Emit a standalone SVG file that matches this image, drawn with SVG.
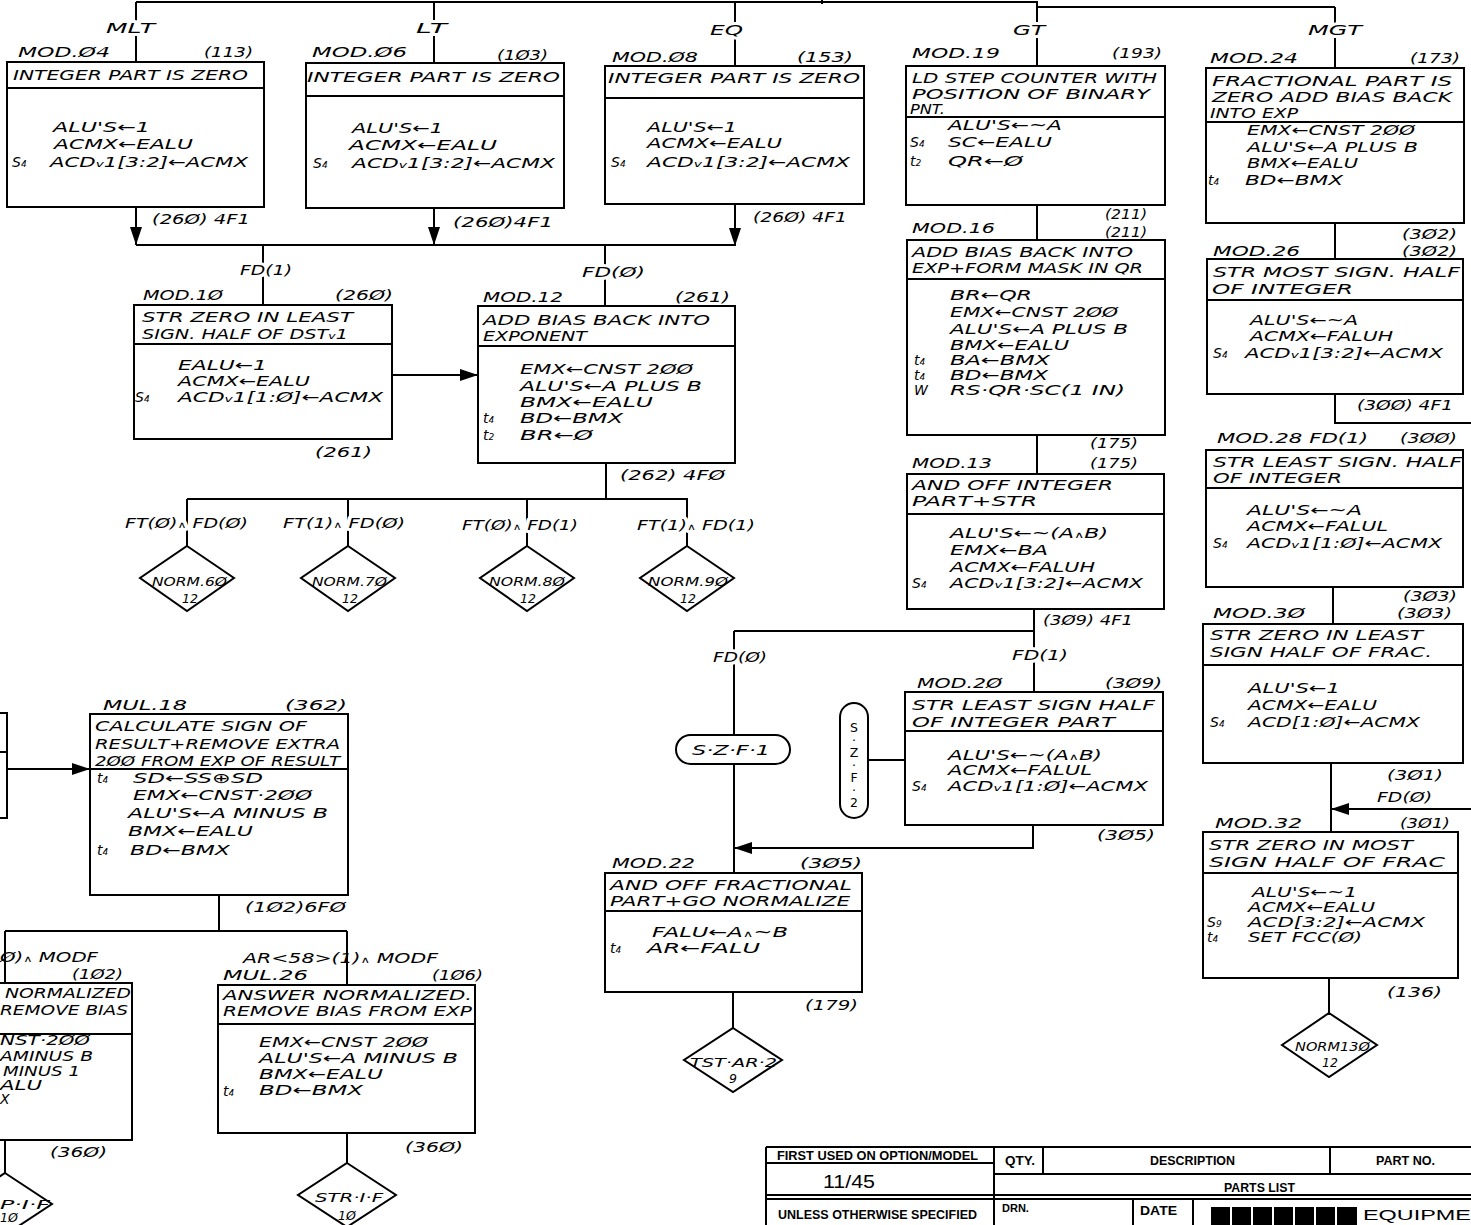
<svg xmlns="http://www.w3.org/2000/svg" width="1471" height="1225" viewBox="0 0 1471 1225">
<style>
text{font-family:"DejaVu Sans","Liberation Sans",sans-serif;font-style:italic;font-size:14px;fill:#000}
.s{font-size:9px}
.d{font-size:12.5px}
.halo{stroke:#fff;stroke-width:6px;paint-order:stroke fill;stroke-linejoin:round}
.box{fill:#fff;stroke:#000;stroke-width:2}
.ln{fill:none;stroke:#000;stroke-width:2}
.tb{font-family:"Liberation Sans",sans-serif;font-style:normal;font-weight:bold;font-size:12px}
.tbl{fill:none;stroke:#000;stroke-width:2}
</style>
<defs>
<marker id="ah" markerUnits="userSpaceOnUse" viewBox="0 0 18 12" refX="18" refY="6" markerWidth="18" markerHeight="12" orient="auto"><path d="M0,0 L18,6 L0,12 z" fill="#000"/></marker>
</defs>
<rect width="1471" height="1225" fill="#fff"/>

<g id="connectors" class="ln">
<path d="M136,2 H1037 V7 H1335"/>
<path d="M822,0 V4"/>
<path d="M136,2 V62 M434,2 V63 M735,2 V66 M1037,7 V66 M1335,7 V68"/>
<path d="M136,207 V245" marker-end="url(#ah)"/>
<path d="M434,208 V245" marker-end="url(#ah)"/>
<path d="M735,204 V246" marker-end="url(#ah)"/>
<path d="M136,245 H735 M263,245 V305 M605,245 V306"/>
<path d="M392,375 H478" marker-end="url(#ah)"/>
<path d="M606,463 V499 M187,499 H688 M187,499 V546 M348,499 V546 M527,499 V546 M687,499 V546"/>
<path d="M1037,205 V240 M1037,435 V474"/>
<path d="M1034,609 V692 M734,631 H1034 M734,631 V873"/>
<path d="M868,760 H905"/>
<path d="M1033,825 V848 H734" marker-end="url(#ah)"/>
<path d="M733,992 V1028"/>
<path d="M1335,223 V259 M1335,394 V423 H1471"/>
<path d="M1333,587 V624 M1331,763 V832"/>
<path d="M1471,809 H1331" marker-end="url(#ah)"/>
<path d="M1329,978 V1013"/>
<path d="M7,769 H90" marker-end="url(#ah)"/>
<path d="M219,895 V931 M5,931 H347 M5,931 V983 M347,931 V985 M5,1140 V1173 M347,1133 V1163"/>
</g>

<g id="branch-labels">
<text class="halo" x="106" y="33" textLength="49" lengthAdjust="spacingAndGlyphs">MLT</text>
<text class="halo" x="416" y="33" textLength="31" lengthAdjust="spacingAndGlyphs">LT</text>
<text class="halo" x="710" y="35" textLength="33" lengthAdjust="spacingAndGlyphs">EQ</text>
<text class="halo" x="1013" y="35" textLength="32" lengthAdjust="spacingAndGlyphs">GT</text>
<text class="halo" x="1308" y="35" textLength="54" lengthAdjust="spacingAndGlyphs">MGT</text>
<text x="152" y="224" textLength="98" lengthAdjust="spacingAndGlyphs">(26Ø) 4F1</text>
<text x="453" y="227" textLength="100" lengthAdjust="spacingAndGlyphs">(26Ø)4F1</text>
<text x="753" y="222" textLength="94" lengthAdjust="spacingAndGlyphs">(26Ø) 4F1</text>
<text class="halo" x="240" y="275" textLength="52" lengthAdjust="spacingAndGlyphs">FD(1)</text>
<text class="halo" x="582" y="277" textLength="63" lengthAdjust="spacingAndGlyphs">FD(Ø)</text>
<text x="315" y="457" textLength="57" lengthAdjust="spacingAndGlyphs">(261)</text>
<text x="620" y="480" textLength="105" lengthAdjust="spacingAndGlyphs">(262) 4FØ</text>
<text class="halo" x="125" y="528" textLength="123" lengthAdjust="spacingAndGlyphs">FT(Ø)<tspan class="s">∧</tspan> FD(Ø)</text>
<text class="halo" x="283" y="528" textLength="122" lengthAdjust="spacingAndGlyphs">FT(1)<tspan class="s">∧</tspan> FD(Ø)</text>
<text class="halo" x="462" y="530" textLength="116" lengthAdjust="spacingAndGlyphs">FT(Ø)<tspan class="s">∧</tspan> FD(1)</text>
<text class="halo" x="637" y="530" textLength="118" lengthAdjust="spacingAndGlyphs">FT(1)<tspan class="s">∧</tspan> FD(1)</text>
<text x="1105" y="219" textLength="42" lengthAdjust="spacingAndGlyphs">(211)</text>
<text x="1105" y="237" textLength="42" lengthAdjust="spacingAndGlyphs">(211)</text>
<text x="1090" y="448" textLength="48" lengthAdjust="spacingAndGlyphs">(175)</text>
<text x="1090" y="468" textLength="48" lengthAdjust="spacingAndGlyphs">(175)</text>
<text x="1043" y="625" textLength="90" lengthAdjust="spacingAndGlyphs">(3Ø9) 4F1</text>
<text class="halo" x="713" y="662" textLength="54" lengthAdjust="spacingAndGlyphs">FD(Ø)</text>
<text class="halo" x="1012" y="660" textLength="56" lengthAdjust="spacingAndGlyphs">FD(1)</text>
<text x="1097" y="840" textLength="58" lengthAdjust="spacingAndGlyphs">(3Ø5)</text>
<text x="805" y="1010" textLength="53" lengthAdjust="spacingAndGlyphs">(179)</text>
<text x="1402" y="239" textLength="55" lengthAdjust="spacingAndGlyphs">(3Ø2)</text>
<text x="1402" y="256" textLength="55" lengthAdjust="spacingAndGlyphs">(3Ø2)</text>
<text x="1357" y="410" textLength="96" lengthAdjust="spacingAndGlyphs">(3ØØ) 4F1</text>
<text x="1403" y="601" textLength="54" lengthAdjust="spacingAndGlyphs">(3Ø3)</text>
<text x="1387" y="780" textLength="56" lengthAdjust="spacingAndGlyphs">(3Ø1)</text>
<text x="1377" y="802" textLength="55" lengthAdjust="spacingAndGlyphs">FD(Ø)</text>
<text x="1387" y="997" textLength="55" lengthAdjust="spacingAndGlyphs">(136)</text>
<text x="245" y="912" textLength="101" lengthAdjust="spacingAndGlyphs">(1Ø2)6FØ</text>
<text x="0" y="962" textLength="98" lengthAdjust="spacingAndGlyphs">Ø)<tspan class="s">∧</tspan> MODF</text>
<text x="72" y="979" textLength="51" lengthAdjust="spacingAndGlyphs">(1Ø2)</text>
<text x="50" y="1157" textLength="57" lengthAdjust="spacingAndGlyphs">(36Ø)</text>
<text x="243" y="963" textLength="195" lengthAdjust="spacingAndGlyphs">AR&lt;58&gt;(1)<tspan class="s">∧</tspan> MODF</text>
<text x="405" y="1152" textLength="58" lengthAdjust="spacingAndGlyphs">(36Ø)</text>
</g>

<g id="mod04">
<rect class="box" x="7" y="62" width="257" height="145"/><path class="ln" d="M7,88 H264"/>
<text x="18" y="57" textLength="92" lengthAdjust="spacingAndGlyphs">MOD.Ø4</text>
<text x="204" y="57" textLength="49" lengthAdjust="spacingAndGlyphs">(113)</text>
<text x="13" y="80" textLength="235" lengthAdjust="spacingAndGlyphs">INTEGER PART IS ZERO</text>
<text x="53" y="132" textLength="97" lengthAdjust="spacingAndGlyphs">ALU'S←1</text>
<text x="54" y="149" textLength="139" lengthAdjust="spacingAndGlyphs">ACMX←EALU</text>
<text x="12" y="167">S<tspan class="s">4</tspan></text>
<text x="50" y="167" textLength="198" lengthAdjust="spacingAndGlyphs">ACD<tspan class="s">v</tspan>1[3:2]←ACMX</text>
</g>

<g id="mod06">
<rect class="box" x="306" y="63" width="258" height="145"/><path class="ln" d="M306,96 H564"/>
<text x="312" y="57" textLength="95" lengthAdjust="spacingAndGlyphs">MOD.Ø6</text>
<text x="497" y="60" textLength="51" lengthAdjust="spacingAndGlyphs">(1Ø3)</text>
<text x="307" y="82" textLength="253" lengthAdjust="spacingAndGlyphs">INTEGER PART IS ZERO</text>
<text x="352" y="133" textLength="91" lengthAdjust="spacingAndGlyphs">ALU'S←1</text>
<text x="349" y="150" textLength="148" lengthAdjust="spacingAndGlyphs">ACMX←EALU</text>
<text x="313" y="168">S<tspan class="s">4</tspan></text>
<text x="352" y="168" textLength="203" lengthAdjust="spacingAndGlyphs">ACD<tspan class="s">v</tspan>1[3:2]←ACMX</text>
</g>

<g id="mod08">
<rect class="box" x="605" y="66" width="259" height="138"/><path class="ln" d="M605,98 H864"/>
<text x="612" y="62" textLength="86" lengthAdjust="spacingAndGlyphs">MOD.Ø8</text>
<text x="797" y="62" textLength="56" lengthAdjust="spacingAndGlyphs">(153)</text>
<text x="608" y="83" textLength="252" lengthAdjust="spacingAndGlyphs">INTEGER PART IS ZERO</text>
<text x="647" y="132" textLength="90" lengthAdjust="spacingAndGlyphs">ALU'S←1</text>
<text x="647" y="148" textLength="135" lengthAdjust="spacingAndGlyphs">ACMX←EALU</text>
<text x="611" y="167">S<tspan class="s">4</tspan></text>
<text x="647" y="167" textLength="203" lengthAdjust="spacingAndGlyphs">ACD<tspan class="s">v</tspan>1[3:2]←ACMX</text>
</g>

<g id="mod19">
<rect class="box" x="906" y="66" width="259" height="139"/><path class="ln" d="M906,117 H1165"/>
<text x="912" y="58" textLength="88" lengthAdjust="spacingAndGlyphs">MOD.19</text>
<text x="1112" y="58" textLength="50" lengthAdjust="spacingAndGlyphs">(193)</text>
<text x="912" y="83" textLength="245" lengthAdjust="spacingAndGlyphs">LD STEP COUNTER WITH</text>
<text x="912" y="99" textLength="238" lengthAdjust="spacingAndGlyphs">POSITION OF BINARY</text>
<text x="910" y="114" textLength="35" lengthAdjust="spacingAndGlyphs">PNT.</text>
<text x="948" y="130" textLength="114" lengthAdjust="spacingAndGlyphs">ALU'S←~A</text>
<text x="910" y="147">S<tspan class="s">4</tspan></text>
<text x="948" y="147" textLength="104" lengthAdjust="spacingAndGlyphs">SC←EALU</text>
<text x="910" y="166">t<tspan class="s">2</tspan></text>
<text x="948" y="166" textLength="75" lengthAdjust="spacingAndGlyphs">QR←Ø</text>
</g>

<g id="mod24">
<rect class="box" x="1206" y="68" width="258" height="155"/><path class="ln" d="M1206,122 H1464"/>
<text x="1210" y="63" textLength="88" lengthAdjust="spacingAndGlyphs">MOD.24</text>
<text x="1410" y="63" textLength="50" lengthAdjust="spacingAndGlyphs">(173)</text>
<text x="1212" y="86" textLength="240" lengthAdjust="spacingAndGlyphs">FRACTIONAL PART IS</text>
<text x="1212" y="102" textLength="240" lengthAdjust="spacingAndGlyphs">ZERO ADD BIAS BACK</text>
<text x="1210" y="118" textLength="88" lengthAdjust="spacingAndGlyphs">INTO EXP</text>
<text x="1247" y="135" textLength="168" lengthAdjust="spacingAndGlyphs">EMX←CNST 2ØØ</text>
<text x="1247" y="152" textLength="171" lengthAdjust="spacingAndGlyphs">ALU'S←A PLUS B</text>
<text x="1247" y="168" textLength="111" lengthAdjust="spacingAndGlyphs">BMX←EALU</text>
<text x="1208" y="185">t<tspan class="s">4</tspan></text>
<text x="1245" y="185" textLength="98" lengthAdjust="spacingAndGlyphs">BD←BMX</text>
</g>

<g id="mod16">
<rect class="box" x="907" y="240" width="258" height="195"/><path class="ln" d="M907,279 H1165"/>
<text x="912" y="233" textLength="83" lengthAdjust="spacingAndGlyphs">MOD.16</text>
<text x="912" y="257" textLength="221" lengthAdjust="spacingAndGlyphs">ADD BIAS BACK INTO</text>
<text x="912" y="273" textLength="231" lengthAdjust="spacingAndGlyphs">EXP+FORM MASK IN QR</text>
<text x="950" y="300" textLength="82" lengthAdjust="spacingAndGlyphs">BR←QR</text>
<text x="950" y="317" textLength="168" lengthAdjust="spacingAndGlyphs">EMX←CNST 2ØØ</text>
<text x="950" y="334" textLength="178" lengthAdjust="spacingAndGlyphs">ALU'S←A PLUS B</text>
<text x="950" y="350" textLength="119" lengthAdjust="spacingAndGlyphs">BMX←EALU</text>
<text x="914" y="365">t<tspan class="s">4</tspan></text>
<text x="950" y="365" textLength="100" lengthAdjust="spacingAndGlyphs">BA←BMX</text>
<text x="914" y="380">t<tspan class="s">4</tspan></text>
<text x="950" y="380" textLength="98" lengthAdjust="spacingAndGlyphs">BD←BMX</text>
<text x="914" y="395">W</text>
<text x="950" y="395" textLength="175" lengthAdjust="spacingAndGlyphs">RS·QR·SC(1 IN)</text>
</g>

<g id="mod26">
<rect class="box" x="1207" y="259" width="256" height="135"/><path class="ln" d="M1207,300 H1463"/>
<text x="1213" y="256" textLength="87" lengthAdjust="spacingAndGlyphs">MOD.26</text>
<text x="1213" y="277" textLength="247" lengthAdjust="spacingAndGlyphs">STR MOST SIGN. HALF</text>
<text x="1212" y="294" textLength="141" lengthAdjust="spacingAndGlyphs">OF INTEGER</text>
<text x="1250" y="325" textLength="108" lengthAdjust="spacingAndGlyphs">ALU'S←~A</text>
<text x="1250" y="341" textLength="143" lengthAdjust="spacingAndGlyphs">ACMX←FALUH</text>
<text x="1213" y="358">S<tspan class="s">4</tspan></text>
<text x="1245" y="358" textLength="198" lengthAdjust="spacingAndGlyphs">ACD<tspan class="s">v</tspan>1[3:2]←ACMX</text>
</g>

<g id="mod28">
<rect class="box" x="1206" y="450" width="257" height="137"/><path class="ln" d="M1206,488 H1463"/>
<text x="1217" y="443" textLength="151" lengthAdjust="spacingAndGlyphs">MOD.28 FD(1)</text>
<text x="1400" y="443" textLength="57" lengthAdjust="spacingAndGlyphs">(3ØØ)</text>
<text x="1213" y="467" textLength="249" lengthAdjust="spacingAndGlyphs">STR LEAST SIGN. HALF</text>
<text x="1213" y="483" textLength="129" lengthAdjust="spacingAndGlyphs">OF INTEGER</text>
<text x="1247" y="515" textLength="115" lengthAdjust="spacingAndGlyphs">ALU'S←~A</text>
<text x="1247" y="531" textLength="141" lengthAdjust="spacingAndGlyphs">ACMX←FALUL</text>
<text x="1213" y="548">S<tspan class="s">4</tspan></text>
<text x="1247" y="548" textLength="195" lengthAdjust="spacingAndGlyphs">ACD<tspan class="s">v</tspan>1[1:Ø]←ACMX</text>
</g>

<g id="mod30">
<rect class="box" x="1203" y="624" width="260" height="139"/><path class="ln" d="M1203,665 H1463"/>
<text x="1213" y="618" textLength="92" lengthAdjust="spacingAndGlyphs">MOD.3Ø</text>
<text x="1397" y="618" textLength="55" lengthAdjust="spacingAndGlyphs">(3Ø3)</text>
<text x="1210" y="640" textLength="213" lengthAdjust="spacingAndGlyphs">STR ZERO IN LEAST</text>
<text x="1210" y="657" textLength="222" lengthAdjust="spacingAndGlyphs">SIGN HALF OF FRAC.</text>
<text x="1248" y="693" textLength="92" lengthAdjust="spacingAndGlyphs">ALU'S←1</text>
<text x="1248" y="710" textLength="129" lengthAdjust="spacingAndGlyphs">ACMX←EALU</text>
<text x="1210" y="727">S<tspan class="s">4</tspan></text>
<text x="1248" y="727" textLength="172" lengthAdjust="spacingAndGlyphs">ACD[1:Ø]←ACMX</text>
</g>

<g id="mod32">
<rect class="box" x="1203" y="832" width="255" height="146"/><path class="ln" d="M1203,873 H1458"/>
<text x="1215" y="828" textLength="87" lengthAdjust="spacingAndGlyphs">MOD.32</text>
<text x="1400" y="828" textLength="50" lengthAdjust="spacingAndGlyphs">(3Ø1)</text>
<text x="1209" y="850" textLength="204" lengthAdjust="spacingAndGlyphs">STR ZERO IN MOST</text>
<text x="1209" y="867" textLength="236" lengthAdjust="spacingAndGlyphs">SIGN HALF OF FRAC</text>
<text x="1252" y="897" textLength="105" lengthAdjust="spacingAndGlyphs">ALU'S←~1</text>
<text x="1248" y="912" textLength="127" lengthAdjust="spacingAndGlyphs">ACMX←EALU</text>
<text x="1207" y="927">S<tspan class="s">9</tspan></text>
<text x="1248" y="927" textLength="177" lengthAdjust="spacingAndGlyphs">ACD[3:2]←ACMX</text>
<text x="1207" y="942">t<tspan class="s">4</tspan></text>
<text x="1248" y="942" textLength="114" lengthAdjust="spacingAndGlyphs">SET FCC(Ø)</text>
</g>

<g id="norm130">
<polygon class="box" points="1329,1013 1377,1045 1329,1077 1282,1045"/>
<text class="d" x="1295" y="1051" textLength="75" lengthAdjust="spacingAndGlyphs">NORM13Ø</text>
<text class="d" x="1330" y="1067" text-anchor="middle">12</text>
</g>

<g id="mod10">
<rect class="box" x="134" y="305" width="258" height="134"/><path class="ln" d="M134,344 H392"/>
<text x="143" y="300" textLength="80" lengthAdjust="spacingAndGlyphs">MOD.1Ø</text>
<text x="335" y="300" textLength="58" lengthAdjust="spacingAndGlyphs">(26Ø)</text>
<text x="142" y="322" textLength="211" lengthAdjust="spacingAndGlyphs">STR ZERO IN LEAST</text>
<text x="142" y="339" textLength="206" lengthAdjust="spacingAndGlyphs">SIGN. HALF OF DST<tspan class="s">v</tspan>1</text>
<text x="178" y="370" textLength="89" lengthAdjust="spacingAndGlyphs">EALU←1</text>
<text x="178" y="386" textLength="132" lengthAdjust="spacingAndGlyphs">ACMX←EALU</text>
<text x="135" y="402">S<tspan class="s">4</tspan></text>
<text x="178" y="402" textLength="205" lengthAdjust="spacingAndGlyphs">ACD<tspan class="s">v</tspan>1[1:Ø]←ACMX</text>
</g>

<g id="mod12">
<rect class="box" x="478" y="306" width="257" height="157"/><path class="ln" d="M478,346 H735"/>
<text x="483" y="302" textLength="80" lengthAdjust="spacingAndGlyphs">MOD.12</text>
<text x="675" y="302" textLength="55" lengthAdjust="spacingAndGlyphs">(261)</text>
<text x="483" y="325" textLength="227" lengthAdjust="spacingAndGlyphs">ADD BIAS BACK INTO</text>
<text x="483" y="341" textLength="104" lengthAdjust="spacingAndGlyphs">EXPONENT</text>
<text x="520" y="374" textLength="173" lengthAdjust="spacingAndGlyphs">EMX←CNST 2ØØ</text>
<text x="520" y="391" textLength="182" lengthAdjust="spacingAndGlyphs">ALU'S←A PLUS B</text>
<text x="520" y="407" textLength="133" lengthAdjust="spacingAndGlyphs">BMX←EALU</text>
<text x="483" y="423">t<tspan class="s">4</tspan></text>
<text x="520" y="423" textLength="103" lengthAdjust="spacingAndGlyphs">BD←BMX</text>
<text x="483" y="440">t<tspan class="s">2</tspan></text>
<text x="520" y="440" textLength="73" lengthAdjust="spacingAndGlyphs">BR←Ø</text>
</g>

<g id="norm60">
<polygon class="box" points="187,546 234,578 187,611 140,578"/>
<text class="d" x="152" y="586" textLength="75" lengthAdjust="spacingAndGlyphs">NORM.6Ø</text>
<text class="d" x="190" y="603" text-anchor="middle">12</text>
</g>
<g id="norm70">
<polygon class="box" points="348,546 395,578 348,611 301,578"/>
<text class="d" x="312" y="586" textLength="75" lengthAdjust="spacingAndGlyphs">NORM.7Ø</text>
<text class="d" x="350" y="603" text-anchor="middle">12</text>
</g>
<g id="norm80">
<polygon class="box" points="527,546 574,578 527,611 480,578"/>
<text class="d" x="489" y="586" textLength="76" lengthAdjust="spacingAndGlyphs">NORM.8Ø</text>
<text class="d" x="528" y="603" text-anchor="middle">12</text>
</g>
<g id="norm90">
<polygon class="box" points="687,546 734,578 687,611 640,578"/>
<text class="d" x="648" y="586" textLength="80" lengthAdjust="spacingAndGlyphs">NORM.9Ø</text>
<text class="d" x="688" y="603" text-anchor="middle">12</text>
</g>

<g id="mod13">
<rect class="box" x="907" y="474" width="257" height="135"/><path class="ln" d="M907,514 H1164"/>
<text x="912" y="468" textLength="80" lengthAdjust="spacingAndGlyphs">MOD.13</text>
<text x="912" y="490" textLength="201" lengthAdjust="spacingAndGlyphs">AND OFF INTEGER</text>
<text x="912" y="506" textLength="125" lengthAdjust="spacingAndGlyphs">PART+STR</text>
<text x="950" y="538" textLength="158" lengthAdjust="spacingAndGlyphs">ALU'S←~(A<tspan class="s">∧</tspan>B)</text>
<text x="950" y="555" textLength="98" lengthAdjust="spacingAndGlyphs">EMX←BA</text>
<text x="950" y="572" textLength="145" lengthAdjust="spacingAndGlyphs">ACMX←FALUH</text>
<text x="912" y="588">S<tspan class="s">4</tspan></text>
<text x="950" y="588" textLength="193" lengthAdjust="spacingAndGlyphs">ACD<tspan class="s">v</tspan>1[3:2]←ACMX</text>
</g>

<g id="szf1">
<rect class="box" x="676" y="735" width="114" height="29" rx="14.5"/>
<text x="692" y="755" textLength="78" lengthAdjust="spacingAndGlyphs">S·Z·F·1</text>
</g>

<g id="szf2">
<rect class="box" x="840" y="703" width="28" height="115" rx="14"/>
<text x="854" y="720" style="writing-mode:vertical-rl;text-orientation:upright;font-style:normal;font-size:12.5px" textLength="90" lengthAdjust="spacing">S·Z·F·2</text>
</g>

<g id="mod20">
<rect class="box" x="905" y="692" width="258" height="133"/><path class="ln" d="M905,731 H1163"/>
<text x="917" y="688" textLength="85" lengthAdjust="spacingAndGlyphs">MOD.2Ø</text>
<text x="1105" y="688" textLength="57" lengthAdjust="spacingAndGlyphs">(3Ø9)</text>
<text x="912" y="710" textLength="243" lengthAdjust="spacingAndGlyphs">STR LEAST SIGN HALF</text>
<text x="912" y="727" textLength="203" lengthAdjust="spacingAndGlyphs">OF INTEGER PART</text>
<text x="948" y="760" textLength="154" lengthAdjust="spacingAndGlyphs">ALU'S←~(A<tspan class="s">∧</tspan>B)</text>
<text x="948" y="775" textLength="144" lengthAdjust="spacingAndGlyphs">ACMX←FALUL</text>
<text x="912" y="791">S<tspan class="s">4</tspan></text>
<text x="948" y="791" textLength="200" lengthAdjust="spacingAndGlyphs">ACD<tspan class="s">v</tspan>1[1:Ø]←ACMX</text>
</g>

<g id="mod22">
<rect class="box" x="605" y="873" width="257" height="119"/><path class="ln" d="M605,911 H862"/>
<text x="612" y="868" textLength="83" lengthAdjust="spacingAndGlyphs">MOD.22</text>
<text x="800" y="868" textLength="62" lengthAdjust="spacingAndGlyphs">(3Ø5)</text>
<text x="610" y="890" textLength="242" lengthAdjust="spacingAndGlyphs">AND OFF FRACTIONAL</text>
<text x="610" y="906" textLength="240" lengthAdjust="spacingAndGlyphs">PART+GO NORMALIZE</text>
<text x="652" y="937" textLength="136" lengthAdjust="spacingAndGlyphs">FALU←A<tspan class="s">∧</tspan>~B</text>
<text x="610" y="953">t<tspan class="s">4</tspan></text>
<text x="647" y="953" textLength="113" lengthAdjust="spacingAndGlyphs">AR←FALU</text>
</g>

<g id="tstar2">
<polygon class="box" points="733,1028 782,1060 733,1092 684,1060"/>
<text class="d" x="690" y="1067" textLength="87" lengthAdjust="spacingAndGlyphs">TST·AR·2</text>
<text class="d" x="733" y="1083" text-anchor="middle">9</text>
</g>

<g id="left-box1">
<rect class="box" x="-300" y="713" width="307" height="105"/><path class="ln" d="M-300,752 H7"/>
</g>

<g id="mul18">
<rect class="box" x="90" y="714" width="258" height="181"/><path class="ln" d="M90,769 H348"/>
<text x="103" y="710" textLength="84" lengthAdjust="spacingAndGlyphs">MUL.18</text>
<text x="285" y="710" textLength="62" lengthAdjust="spacingAndGlyphs">(362)</text>
<text x="95" y="731" textLength="212" lengthAdjust="spacingAndGlyphs">CALCULATE SIGN OF</text>
<text x="95" y="749" textLength="245" lengthAdjust="spacingAndGlyphs">RESULT+REMOVE EXTRA</text>
<text x="95" y="766" textLength="245" lengthAdjust="spacingAndGlyphs">2ØØ FROM EXP OF RESULT</text>
<text x="97" y="783">t<tspan class="s">4</tspan></text>
<text x="133" y="783" textLength="130" lengthAdjust="spacingAndGlyphs">SD←SS⊕SD</text>
<text x="133" y="800" textLength="179" lengthAdjust="spacingAndGlyphs">EMX←CNST·2ØØ</text>
<text x="128" y="818" textLength="200" lengthAdjust="spacingAndGlyphs">ALU'S←A MINUS B</text>
<text x="128" y="836" textLength="125" lengthAdjust="spacingAndGlyphs">BMX←EALU</text>
<text x="97" y="855">t<tspan class="s">4</tspan></text>
<text x="130" y="855" textLength="100" lengthAdjust="spacingAndGlyphs">BD←BMX</text>
</g>

<g id="left-box2">
<rect class="box" x="-200" y="983" width="332" height="157"/><path class="ln" d="M-200,1034 H132"/>
<text x="5" y="998" textLength="126" lengthAdjust="spacingAndGlyphs">NORMALIZED</text>
<text x="0" y="1015" textLength="128" lengthAdjust="spacingAndGlyphs">REMOVE BIAS</text>
<text x="0" y="1045" textLength="90" lengthAdjust="spacingAndGlyphs">NST·2ØØ</text>
<text x="0" y="1061" textLength="93" lengthAdjust="spacingAndGlyphs">AMINUS B</text>
<text x="3" y="1076" textLength="77" lengthAdjust="spacingAndGlyphs">MINUS 1</text>
<text x="0" y="1090" textLength="42" lengthAdjust="spacingAndGlyphs">ALU</text>
<text x="0" y="1104">X</text>
</g>

<g id="left-diamond">
<polygon class="box" points="5,1173 52,1204 5,1235 -42,1204"/>
<text class="d" x="0" y="1209" textLength="50" lengthAdjust="spacingAndGlyphs">P·I·F</text>
<text class="d" x="0" y="1222">1Ø</text>
</g>

<g id="mul26">
<rect class="box" x="218" y="985" width="257" height="148"/><path class="ln" d="M218,1024 H475"/>
<text x="223" y="980" textLength="85" lengthAdjust="spacingAndGlyphs">MUL.26</text>
<text x="432" y="980" textLength="51" lengthAdjust="spacingAndGlyphs">(1Ø6)</text>
<text x="223" y="1000" textLength="249" lengthAdjust="spacingAndGlyphs">ANSWER NORMALIZED.</text>
<text x="223" y="1016" textLength="249" lengthAdjust="spacingAndGlyphs">REMOVE BIAS FROM EXP</text>
<text x="259" y="1047" textLength="169" lengthAdjust="spacingAndGlyphs">EMX←CNST 2ØØ</text>
<text x="259" y="1063" textLength="199" lengthAdjust="spacingAndGlyphs">ALU'S←A MINUS B</text>
<text x="259" y="1079" textLength="124" lengthAdjust="spacingAndGlyphs">BMX←EALU</text>
<text x="223" y="1096">t<tspan class="s">4</tspan></text>
<text x="259" y="1095" textLength="104" lengthAdjust="spacingAndGlyphs">BD←BMX</text>
</g>

<g id="strif">
<polygon class="box" points="347,1163 396,1195 347,1227 298,1195"/>
<text class="d" x="315" y="1202" textLength="68" lengthAdjust="spacingAndGlyphs">STR·I·F</text>
<text class="d" x="347" y="1220" text-anchor="middle">1Ø</text>
</g>

<g id="title-block">
<path class="tbl" d="M766,1147 H1471" stroke-width="2.5"/>
<path class="tbl" d="M766,1147 V1225 M994,1147 V1225 M1043,1147 V1174 M1330,1147 V1174 M766,1163 H994 M994,1174 H1471 M1133,1199 V1225 M1193,1199 V1225"/>
<path class="tbl" d="M766,1195 H1471 M766,1199 H1471" stroke-width="1.5"/>
<text class="tb" x="777" y="1160" textLength="201" lengthAdjust="spacingAndGlyphs">FIRST USED ON OPTION/MODEL</text>
<text class="tb" x="1005" y="1165" textLength="30" lengthAdjust="spacingAndGlyphs">QTY.</text>
<text class="tb" x="1150" y="1165" textLength="85" lengthAdjust="spacingAndGlyphs">DESCRIPTION</text>
<text class="tb" x="1376" y="1165" textLength="59" lengthAdjust="spacingAndGlyphs">PART NO.</text>
<text x="823" y="1188" style="font-family:'Liberation Sans',sans-serif;font-style:normal;font-size:18px" textLength="52" lengthAdjust="spacingAndGlyphs">11/45</text>
<text class="tb" x="1224" y="1192" textLength="71" lengthAdjust="spacingAndGlyphs">PARTS LIST</text>
<text class="tb" x="778" y="1219" textLength="199" lengthAdjust="spacingAndGlyphs">UNLESS OTHERWISE SPECIFIED</text>
<text class="tb" x="1002" y="1212" style="font-size:11px">DRN.</text>
<text class="tb" x="1140" y="1215" textLength="37" lengthAdjust="spacingAndGlyphs">DATE</text>
<rect x="1211" y="1207" width="19" height="18" fill="#000"/>
<rect x="1232" y="1207" width="19" height="18" fill="#000"/>
<rect x="1253" y="1207" width="19" height="18" fill="#000"/>
<rect x="1274" y="1207" width="19" height="18" fill="#000"/>
<rect x="1295" y="1207" width="19" height="18" fill="#000"/>
<rect x="1316" y="1207" width="19" height="18" fill="#000"/>
<rect x="1337" y="1207" width="20" height="18" fill="#000"/>
<text x="1363" y="1220" style="font-family:'Liberation Sans',sans-serif;font-style:normal;font-size:15px" textLength="108" lengthAdjust="spacingAndGlyphs">EQUIPME</text>
</g>
</svg>
